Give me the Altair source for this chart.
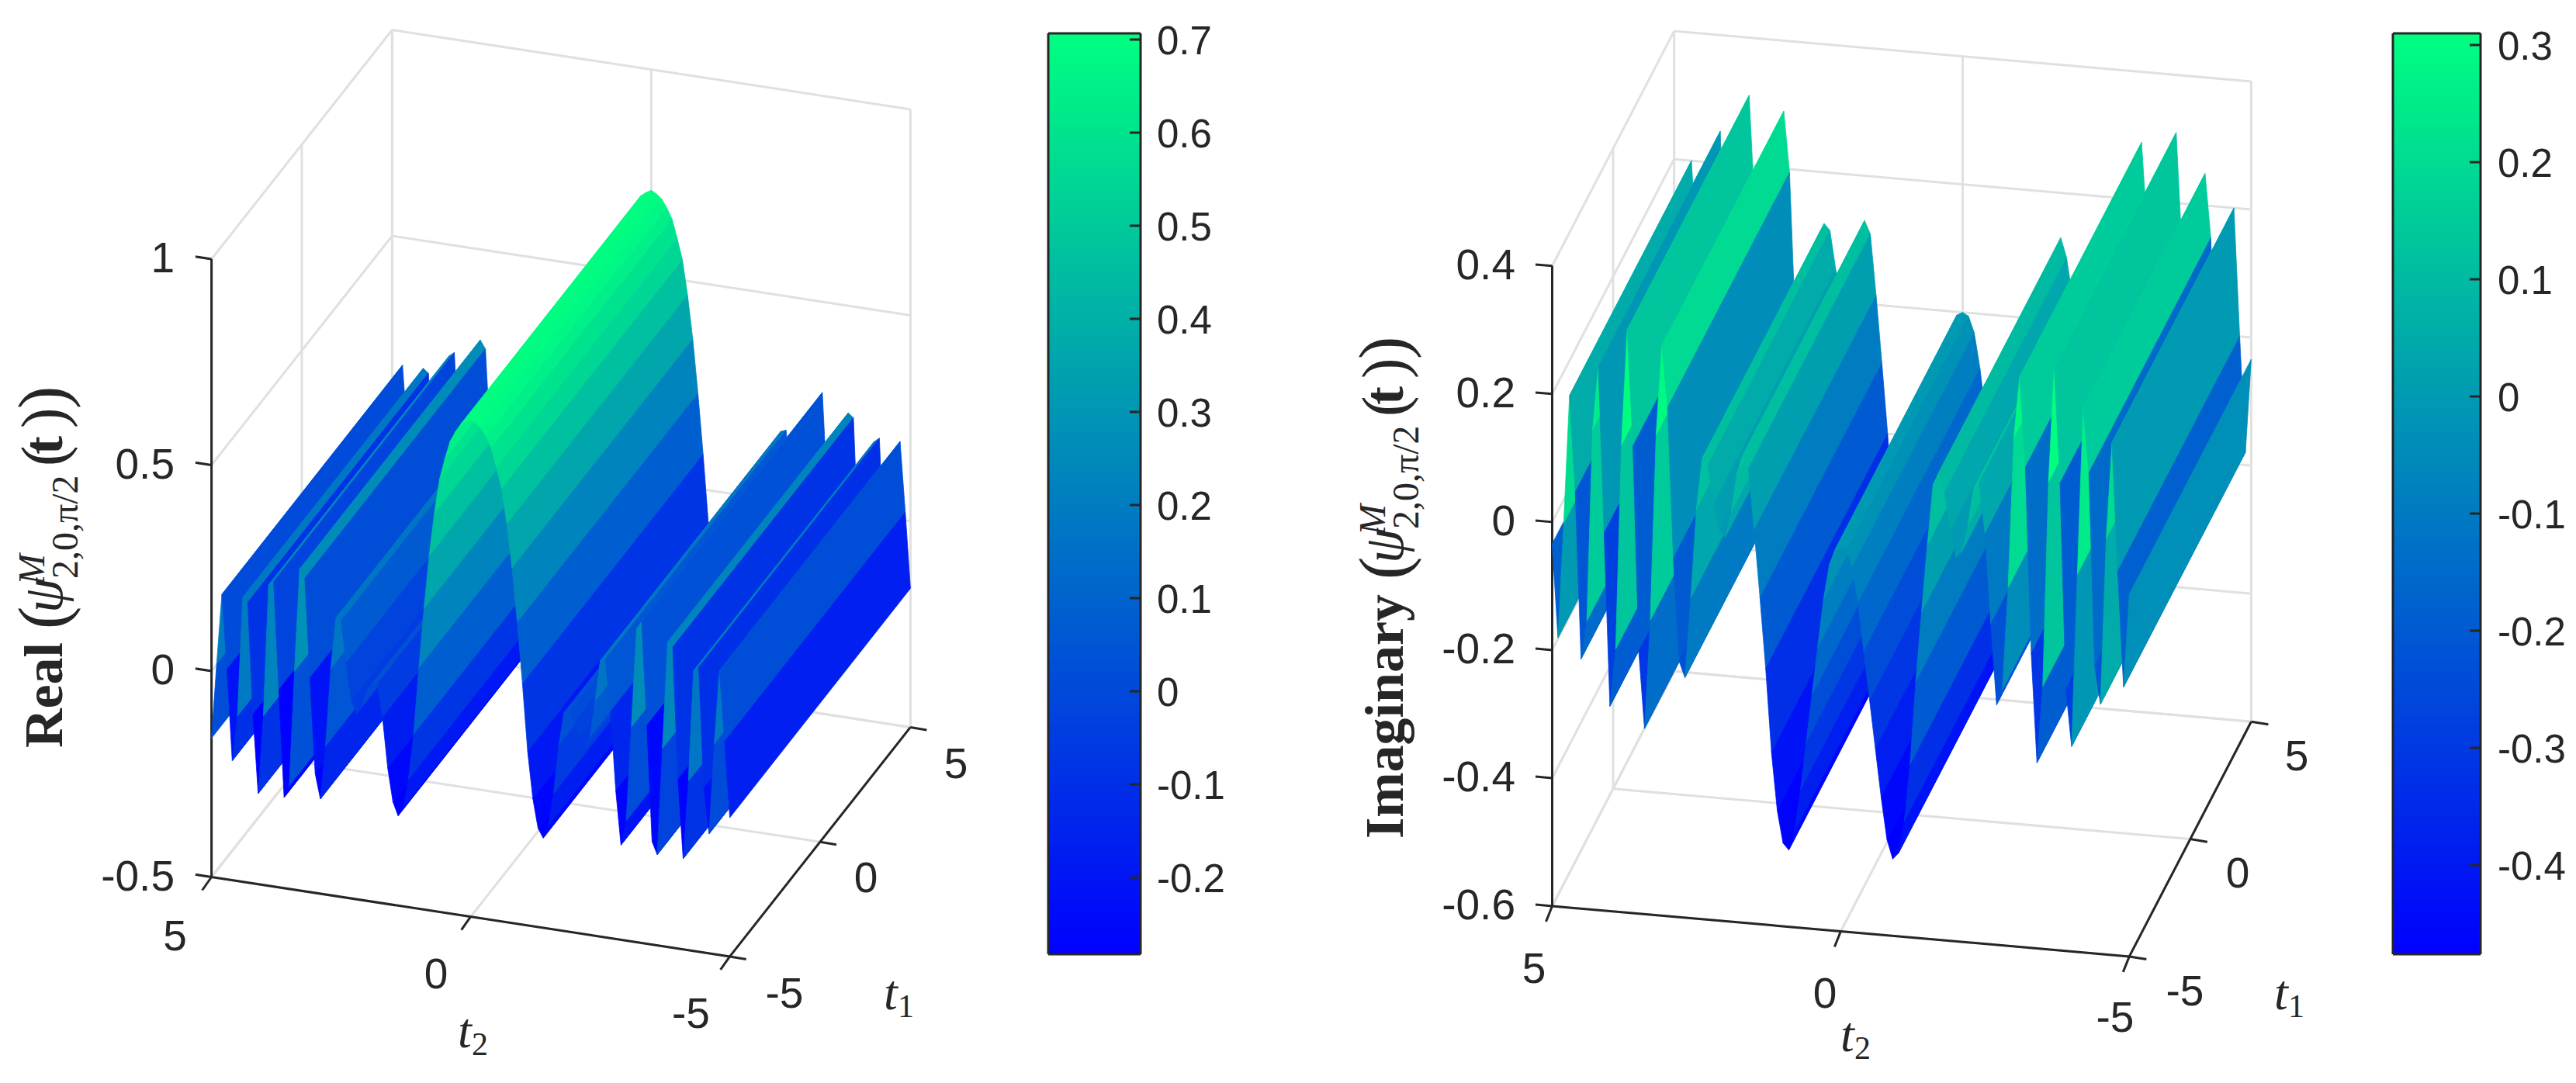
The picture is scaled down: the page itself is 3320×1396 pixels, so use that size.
import altair as alt
import pandas as pd

alt.data_transformers.disable_max_rows()

# ---------- data: profile along t2 (5 -> -5, step 0.1) ----------
T2_COUNT = 101
REAL_Z = [
    -.163, .02, .19, .01, -.21, -.10, .19, .18, -.09, -.28,
    -.09, .23, .24, -.02, -.28, -.25, .03, .28, .26, .02,
    -.21, -.27, -.14, .05, .175, .17, .07, -.02, -.05, -.03,
    .01, .03, .03, -.05, -.17, -.25, -.282, -.26, -.19, -.078,
    .085, .231, .361, .466, .55, .60, .645, .67, .69, .70,
    .707,
    .70, .69, .67, .645, .60, .55, .466, .361, .231, .085,
    -.078, -.19, -.26, -.282, -.25, -.17, -.05, .03, .03, .01,
    -.03, -.05, -.02, .07, .17, .175, .05, -.14, -.27, -.21,
    .02, .26, .28, .03, -.25, -.28, -.02, .24, .23, -.09,
    -.28, -.09, .18, .19, -.10, -.21, .01, .19, .02, -.163,
]
IMAG_Z = [
    -.034, -.18, .0, .2, .05, -.21, -.15, .15, .25, -.01,
    -.28, -.19, .13, .31, .13, -.19, -.31, -.14, .15, .29,
    .195, -.04, -.2, -.225, -.1, .04, .12, .11, .05, .01,
    .0, .04, .1, .13, .11, .015, -.09, -.2, -.33, -.42,
    -.47, -.48, -.45, -.385, -.31, -.235, -.16, -.085, -.03, -.005,
    .0,
    -.005, -.03, -.085, -.16, -.235, -.31, -.385, -.45, -.48, -.47,
    -.42, -.33, -.2, -.09, .015, .11, .13, .1, .04, .0,
    .01, .05, .11, .12, .04, -.1, -.225, -.2, -.04, .195,
    .29, .15, -.14, -.31, -.19, .13, .31, .13, -.19, -.28,
    -.01, .25, .15, -.15, -.21, .05, .2, .0, -.18, -.034,
]
REAL_ZTICKS = [-0.5, 0, 0.5, 1]
REAL_ZLABELS = ["-0.5", "0", "0.5", "1"]
IMAG_ZTICKS = [-0.6, -0.4, -0.2, 0, 0.2, 0.4]
IMAG_ZLABELS = ["-0.6", "-0.4", "-0.2", "0", "0.2", "0.4"]
T_TICKS = [5, 0, -5]
T_LABELS = ["5", "0", "-5"]
REAL_CB_TICKS = [-0.2, -0.1, 0, 0.1, 0.2, 0.3, 0.4, 0.5, 0.6, 0.7]
IMAG_CB_TICKS = [-0.4, -0.3, -0.2, -0.1, 0, 0.1, 0.2, 0.3]

W, H = 3304, 1380
OFF = 8
BLUE, GREEN = "#0000ff", "#00ff80"
INK, GRID = "#262626", "#e0e0e0"

PANELS = [
    dict(z=REAL_Z, zmin=-0.5, zmax=1.0, zticks=REAL_ZTICKS, zlabels=REAL_ZLABELS,
         origin=(272.6, 1130.5), t2v=(66.8, 10.24), t1v=(23.28, -29.55), zs=531.0,
         clim=(-0.2825, 0.7067), bar=(1351, 1470), cbticks=REAL_CB_TICKS, cb0=(0.7, 51, 1200.0),
         cbtx=1491, ztx=225, ztick=(-20.7, -3.2), t2tick=(-12, 17), t1tick=(21, 3.5),
         t2lab=[(225.6, 1208), (562, 1257), (890.5, 1308)],
         t1lab=[(1232, 986), (1116, 1133), (1011, 1282)],
         t2name=(590, 1350), t1name=(1139, 1301)),
    dict(z=IMAG_Z, zmin=-0.6, zmax=0.4, zticks=IMAG_ZTICKS, zlabels=IMAG_ZLABELS,
         origin=(2000.5, 1168.0), t2v=(74.38, 6.49), t1v=(15.71, -30.27), zs=825.2,
         clim=(-0.476, 0.31), bar=(3084, 3197), cbticks=IMAG_CB_TICKS, cb0=(0.3, 58, 1510.0),
         cbtx=3219, ztx=1953, ztick=(-21.5, -1.9), t2tick=(-8, 20), t1tick=(22, 3.6),
         t2lab=[(1977, 1250), (2352, 1282), (2726, 1313)],
         t1lab=[(2960, 976), (2884, 1127), (2816, 1279)],
         t2name=(2372, 1355), t1name=(2931, 1301)),
]
BAR_TOP, BAR_BOT = 43, 1230


def proj(p, t2, t1, z):
    u = 5 - t2
    o, a, b = p["origin"], p["t2v"], p["t1v"]
    v = t1 + 5
    return (o[0] + a[0] * u + b[0] * v,
            o[1] + a[1] * u + b[1] * v - (z - p["zmin"]) * p["zs"])


X = alt.Scale(domain=[OFF, OFF + W], range=[0, W], nice=False, zero=False)
Y = alt.Scale(domain=[OFF, OFF + H], range=[0, H], nice=False, zero=False)
COL = alt.Scale(domain=[0, 1], range=[BLUE, GREEN], interpolate="rgb")


def segs(rows, color, width):
    df = pd.DataFrame(rows, columns=["x", "y", "x2", "y2"])
    return alt.Chart(df).mark_rule(color=color, strokeWidth=width).encode(
        x=alt.X("x:Q", scale=X, axis=None), y=alt.Y("y:Q", scale=Y, axis=None),
        x2="x2:Q", y2="y2:Q")


def label(rows, size, align="center", baseline="middle", font="Liberation Sans",
          weight="normal", style="normal", angle=0):
    df = pd.DataFrame(rows, columns=["x", "y", "t"])
    return alt.Chart(df).mark_text(
        fontSize=size, align=align, baseline=baseline, font=font, fontWeight=weight,
        fontStyle=style, angle=angle, color=INK).encode(
        x=alt.X("x:Q", scale=X, axis=None), y=alt.Y("y:Q", scale=Y, axis=None), text="t:N")


def grid_rows(p):
    r = []
    lo, hi = p["zmin"], p["zmax"]
    for z in p["zticks"]:
        a, b, c = proj(p, 5, -5, z), proj(p, 5, 5, z), proj(p, -5, 5, z)
        r += [(*a, *b), (*b, *c)]
    for t in T_TICKS:
        r.append((*proj(p, 5, t, lo), *proj(p, 5, t, hi)))
        r.append((*proj(p, t, 5, lo), *proj(p, t, 5, hi)))
        r.append((*proj(p, t, -5, lo), *proj(p, t, 5, lo)))
        r.append((*proj(p, 5, t, lo), *proj(p, -5, t, lo)))
    return r


def axis_rows(p):
    lo, hi = p["zmin"], p["zmax"]
    r = [(*proj(p, 5, -5, lo), *proj(p, 5, -5, hi)),
         (*proj(p, 5, -5, lo), *proj(p, -5, -5, lo)),
         (*proj(p, -5, -5, lo), *proj(p, -5, 5, lo))]
    for z in p["zticks"]:
        a = proj(p, 5, -5, z)
        r.append((*a, a[0] + p["ztick"][0], a[1] + p["ztick"][1]))
    for t in T_TICKS:
        a = proj(p, t, -5, lo)
        r.append((*a, a[0] + p["t2tick"][0], a[1] + p["t2tick"][1]))
        b = proj(p, -5, t, lo)
        r.append((*b, b[0] + p["t1tick"][0], b[1] + p["t1tick"][1]))
    return r


def surface(p):
    feats = []
    zz = p["z"]
    cmin, cmax = p["clim"]
    for i in range(T2_COUNT - 1):
        ta, tb = 5 - 0.1 * i, 5 - 0.1 * (i + 1)
        ring = [proj(p, ta, -5, zz[i]), proj(p, tb, -5, zz[i + 1]),
                proj(p, tb, 5, zz[i + 1]), proj(p, ta, 5, zz[i])]
        ring = [list(q) for q in ring] + [list(ring[0])]
        c = min(1, max(0, (zz[i + 1] - cmin) / (cmax - cmin)))
        feats.append({"type": "Feature", "properties": {"c": c},
                      "geometry": {"type": "Polygon", "coordinates": [ring]}})
    return alt.Chart(alt.Data(values=feats)).mark_geoshape(strokeWidth=0.8).encode(
        fill=alt.Fill("properties.c:Q", scale=COL, legend=None),
        stroke=alt.Stroke("properties.c:Q", scale=COL, legend=None),
    ).project(type="identity", scale=1, translate=[-OFF, -OFF])


def colorbar(p):
    x0, x1 = p["bar"]
    n = 300
    rows = []
    for i in range(n):
        y0 = BAR_BOT + (BAR_TOP - BAR_BOT) * i / n
        y1 = BAR_BOT + (BAR_TOP - BAR_BOT) * (i + 1.6) / n
        rows.append((x0, x1, max(y1, BAR_TOP), y0, (i + 0.5) / n))
    df = pd.DataFrame(rows, columns=["x", "x2", "y", "y2", "c"])
    rect = alt.Chart(df).mark_rect().encode(
        x=alt.X("x:Q", scale=X, axis=None), x2="x2:Q",
        y=alt.Y("y:Q", scale=Y, axis=None), y2="y2:Q",
        fill=alt.Fill("c:Q", scale=COL, legend=None))
    v0, y_ref, per = p["cb0"]
    ys = [y_ref + (v0 - v) * per for v in p["cbticks"]]
    box = [(x0, BAR_TOP, x1, BAR_TOP), (x1, BAR_TOP, x1, BAR_BOT),
           (x1, BAR_BOT, x0, BAR_BOT), (x0, BAR_BOT, x0, BAR_TOP)]
    box += [(x1 - 14, y, x1, y) for y in ys]
    labs = [(p["cbtx"], y + 4, ("%g" % round(v, 1))) for v, y in zip(p["cbticks"], ys)]
    return [rect, segs(box, INK, 3), label(labs, 51, align="left")]


def math_name(p, name, y_text, dx, dy):
    serif = "Liberation Serif"
    ver = dict(align="left", baseline="alphabetic", font=serif, angle=270)
    out = [label([(80 + dx, y_text, name)], 70, weight="bold", **ver)]
    out.append(label([(85 + dx, 811 + dy, "(")], 88, **ver))
    out.append(label([(80 + dx, 790 + dy, "ψ")], 72, style="italic", **ver))
    out.append(label([(57 + dx, 754 + dy, "M")], 48, style="italic", **ver))
    out.append(label([(100 + dx, 746 + dy, "2,0,π/2")], 48, **ver))
    out.append(label([(83 + dx, 601 + dy, "(")], 80, **ver))
    out.append(label([(80 + dx, 586 + dy, "t")], 72, weight="bold", **ver))
    out.append(label([(83 + dx, 552 + dy, ")")], 80, **ver))
    out.append(label([(85 + dx, 527 + dy, ")")], 88, **ver))
    return out


layers = []
for p in PANELS:
    layers.append(segs(grid_rows(p), GRID, 3))
for p in PANELS:
    layers.append(segs(axis_rows(p), INK, 3))
for p in PANELS:
    layers.append(surface(p))
for p in PANELS:
    layers += colorbar(p)
    zrows = []
    for z, s in zip(p["zticks"], p["zlabels"]):
        zrows.append((p["ztx"], proj(p, 5, -5, z)[1], s))
    layers.append(label(zrows, 55, align="right"))
    layers.append(label([(*q, s) for q, s in zip(p["t2lab"], T_LABELS)], 55))
    layers.append(label([(*q, s) for q, s in zip(p["t1lab"], T_LABELS)], 55))
    sx, sy = p["t2name"]
    layers.append(label([(sx, sy, "t")], 64, align="left", baseline="alphabetic",
                        font="Liberation Serif", style="italic"))
    layers.append(label([(sx + 18, sy + 10, "2")], 42, align="left", baseline="alphabetic",
                        font="Liberation Serif"))
    sx, sy = p["t1name"]
    layers.append(label([(sx, sy, "t")], 64, align="left", baseline="alphabetic",
                        font="Liberation Serif", style="italic"))
    layers.append(label([(sx + 18, sy + 10, "1")], 42, align="left", baseline="alphabetic",
                        font="Liberation Serif"))

layers += math_name(PANELS[0], "Real", 964, 0, 0)
layers += math_name(PANELS[1], "Imaginary", 1081, 1727.6, -64)

chart = alt.layer(*layers).properties(
    width=W, height=H, padding=0,
    autosize=alt.AutoSizeParams(type="none"),
    background="white",
).configure_view(stroke=None)

chart.save("out.html", embed_options={"renderer": "svg", "actions": False})
